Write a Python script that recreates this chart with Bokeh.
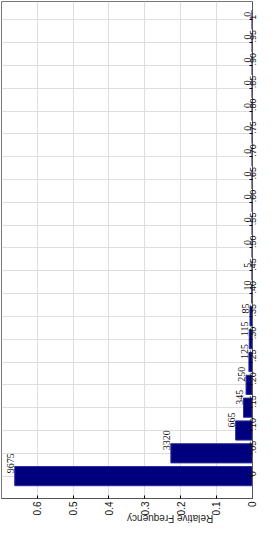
import math
from bokeh.plotting import figure
from bokeh.models import Range1d, FixedTicker, ColumnDataSource
from bokeh.embed import file_html
from bokeh.resources import INLINE

# bin centres (category axis) and their tick labels
bins = [0.0, 0.05, 0.10, 0.15, 0.20, 0.25, 0.30, 0.35, 0.40, 0.45, 0.50,
        0.55, 0.60, 0.65, 0.70, 0.75, 0.80, 0.85, 0.90, 0.95, 1.0]
bin_labels = ["0", ".05", ".10", ".15", ".20", ".25", ".30", ".35", ".40", ".45", ".50",
              ".55", ".60", ".65", ".70", ".75", ".80", ".85", ".90", ".95", "1"]
# counts printed above the bars
counts = [9675, 3320, 665, 345, 250, 125, 115, 85, 10, 5, 0,
          0, 0, 0, 0, 0, 0, 0, 0, 0, 0]
# relative frequency (bar lengths)
rel_freq = [0.663, 0.227, 0.046, 0.024, 0.017, 0.009, 0.008, 0.006, 0.001, 0.0003, 0.0,
            0.0, 0.0, 0.0, 0.0, 0.0, 0.0, 0.0, 0.0, 0.0, 0.0]
# value axis ticks
value_ticks = [0.0, 0.1, 0.2, 0.3, 0.4, 0.5, 0.6]
value_labels = ["0", "0.1", "0.2", "0.3", "0.4", "0.5", "0.6"]
value_title = "Relative Frequency"

FONT = "Liberation Sans"

src = ColumnDataSource(dict(bin=bins, rel=rel_freq,
                            txt=[str(c) for c in counts]))

p = figure(width=262, height=532, output_backend="svg", toolbar_location=None,
           x_range=Range1d(0.7, -0.001), y_range=Range1d(-0.049, 1.04),
           x_axis_location="below", y_axis_location="right",
           min_border_left=1, min_border_top=1, min_border_right=0, min_border_bottom=0)

p.hbar(y="bin", left=0, right="rel", height=0.042, source=src,
       fill_color="#00007f", line_color="#2a2a9a", line_width=1)

p.text(x="rel", y="bin", text="txt", source=src, angle=math.pi / 2,
       text_align="left", text_baseline="bottom", x_offset=-1, y_offset=-3,
       text_font=FONT, text_font_size="10px", text_color="#111111")

# value axis (bottom)
xa = p.xaxis[0]
xa.ticker = FixedTicker(ticks=value_ticks)
xa.major_label_overrides = {t: l for t, l in zip(value_ticks, value_labels)}
xa.major_label_orientation = math.pi / 2
xa.major_label_text_font = FONT
xa.major_label_text_font_size = "10px"
xa.major_label_text_color = "#111111"
xa.major_label_standoff = 3
xa.major_tick_in = 3
xa.major_tick_out = 0
xa.minor_tick_line_color = None
xa.axis_label = value_title
xa.axis_label_text_font = FONT
xa.axis_label_text_font_size = "10px"
xa.axis_label_text_font_style = "normal"
xa.axis_label_text_color = "#222222"
xa.axis_label_orientation = math.pi
xa.axis_label_standoff = 0
xa.axis_line_color = "#555555"

# category axis (right)
ya = p.yaxis[0]
ya.ticker = FixedTicker(ticks=bins)
ya.major_label_overrides = {b: l for b, l in zip(bins, bin_labels)}
ya.major_label_orientation = math.pi / 2
ya.major_label_text_font = FONT
ya.major_label_text_font_size = "9px"
ya.major_label_text_color = "#111111"
ya.major_tick_in = 3
ya.major_tick_out = 0
ya.minor_tick_line_color = None
ya.major_label_standoff = 1
ya.axis_line_color = "#555555"

p.xgrid.grid_line_color = "#dedede"
p.ygrid.grid_line_color = "#dedede"
p.outline_line_color = "#777777"
p.background_fill_color = "white"
p.border_fill_color = "white"

open("out.html", "w").write(file_html(p, INLINE))
